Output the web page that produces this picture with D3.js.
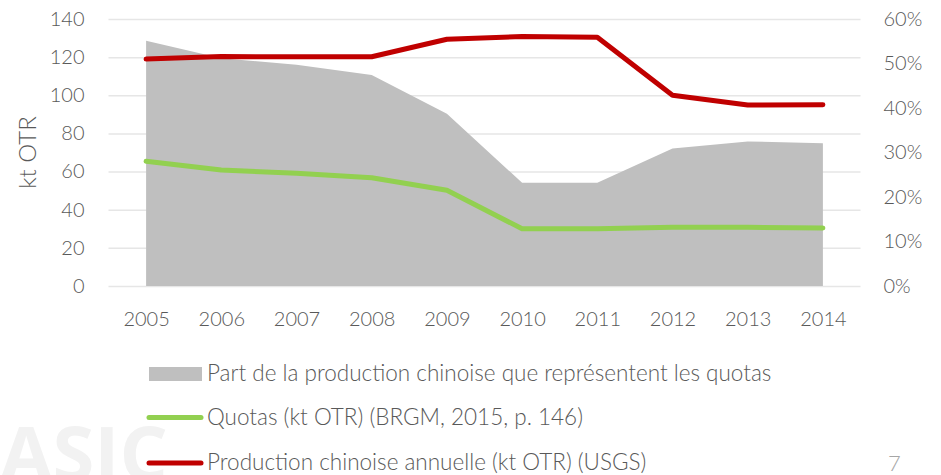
<!DOCTYPE html>
<html>
<head>
<meta charset="utf-8">
<script src="https://cdn.jsdelivr.net/npm/d3@7"></script>
<style>
  body { margin: 0; background: #fff; }
  svg { display: block; font-family: Lato, "Open Sans", sans-serif; font-weight: 300; }
  .axis text { fill: #595959; font-size: 20px; font-family: Lato, sans-serif; font-weight: 300; }
  .axis .domain { display: none; }
  .grid line { stroke: #e6e6e6; stroke-width: 1.5; }
  .grid .domain { display: none; }
  .legend text { fill: #595959; font-size: 22.5px; }
</style>
</head>
<body>
<svg id="chart" width="941" height="475"></svg>
<script>
// Chinese production vs quotas, 2005-2014
const years = ["2005", "2006", "2007", "2008", "2009", "2010", "2011", "2012", "2013", "2014"];
const quotaShare = [0.551, 0.512, 0.497, 0.474, 0.387, 0.232, 0.232, 0.309, 0.325, 0.321];
const quotas = [65.4, 60.8, 59.1, 56.8, 50.2, 30.0, 30.0, 30.8, 30.8, 30.4];
const production = [119, 120.3, 120.2, 120.2, 129.4, 130.8, 130.4, 100, 94.9, 95];
const leftTicks = [0, 20, 40, 60, 80, 100, 120, 140];
const rightTicks = [0, 0.1, 0.2, 0.3, 0.4, 0.5, 0.6];
const legendLabels = [
  "Part de la production chinoise que représentent les quotas",
  "Quotas (kt OTR) (BRGM, 2015, p. 146)",
  "Production chinoise annuelle (kt OTR) (USGS)"
];

const svg = d3.select("#chart");
const plot = { left: 108.5, right: 860.5, top: 19, bottom: 286 };

// watermark behind everything
svg.append("text")
  .attr("x", 0)
  .attr("y", 481)
  .attr("font-size", 76)
  .attr("font-weight", 700)
  .attr("font-family", "Open Sans, sans-serif")
  .attr("fill", "#f2f2f2")
  .text("ASIC");

const x = d3.scalePoint().domain(years).range([plot.left, plot.right]).padding(0.5);
const yLeft = d3.scaleLinear().domain([0, 140]).range([plot.bottom, plot.top]);
const yRight = d3.scaleLinear().domain([0, 0.6]).range([plot.bottom, plot.top]);

// gridlines
svg.append("g")
  .attr("class", "grid")
  .attr("transform", `translate(${plot.left},0)`)
  .call(d3.axisLeft(yLeft).tickValues(leftTicks).tickSize(-(plot.right - plot.left)).tickFormat(""));

// share area (right axis)
const area = d3.area()
  .x((d, i) => x(years[i]))
  .y0(yRight(0))
  .y1((d) => yRight(d));

svg.append("path")
  .datum(quotaShare)
  .attr("fill", "#bfbfbf")
  .attr("d", area);

const line = d3.line().x((d, i) => x(years[i])).y((d) => yLeft(d));

svg.append("path")
  .datum(quotas)
  .attr("fill", "none")
  .attr("stroke", "#92d050")
  .attr("stroke-width", 5)
  .attr("stroke-linecap", "round")
  .attr("stroke-linejoin", "round")
  .attr("d", line);

svg.append("path")
  .datum(production)
  .attr("fill", "none")
  .attr("stroke", "#c00000")
  .attr("stroke-width", 5)
  .attr("stroke-linecap", "round")
  .attr("stroke-linejoin", "round")
  .attr("d", line);

// axes
svg.append("g")
  .attr("class", "axis")
  .attr("transform", `translate(${plot.left},0)`)
  .call(d3.axisLeft(yLeft).tickValues(leftTicks).tickSize(0).tickPadding(24));

svg.append("g")
  .attr("class", "axis")
  .attr("transform", `translate(${plot.right},0)`)
  .call(d3.axisRight(yRight).tickValues(rightTicks).tickSize(0).tickPadding(23).tickFormat(d3.format(".0%")));

svg.append("g")
  .attr("class", "axis")
  .attr("transform", `translate(0,${plot.bottom})`)
  .call(d3.axisBottom(x).tickSize(0).tickPadding(26));

svg.selectAll(".axis .tick line").remove();

svg.append("text")
  .attr("transform", "rotate(-90)")
  .attr("x", -(plot.top + plot.bottom) / 2)
  .attr("y", 36)
  .attr("text-anchor", "middle")
  .attr("fill", "#595959")
  .attr("font-size", 24)
  .text("kt OTR");

// legend
const legend = svg.append("g").attr("class", "legend");
const rowsY = [374, 417.5, 463];

legend.append("rect")
  .attr("x", 149).attr("y", rowsY[0] - 7)
  .attr("width", 53).attr("height", 14)
  .attr("fill", "#bfbfbf");

legend.append("line")
  .attr("x1", 149).attr("x2", 201)
  .attr("y1", rowsY[1]).attr("y2", rowsY[1])
  .attr("stroke", "#92d050").attr("stroke-width", 5).attr("stroke-linecap", "round");

legend.append("line")
  .attr("x1", 149).attr("x2", 201)
  .attr("y1", rowsY[2]).attr("y2", rowsY[2])
  .attr("stroke", "#c00000").attr("stroke-width", 5).attr("stroke-linecap", "round");

legend.selectAll("text.lbl")
  .data(legendLabels)
  .enter()
  .append("text")
  .attr("class", "lbl")
  .attr("x", 207)
  .attr("y", (d, i) => rowsY[i])
  .attr("dy", "0.32em")
  .text((d) => d);

// page number
svg.append("text")
  .attr("x", 888)
  .attr("y", 471)
  .attr("font-size", 22)
  .attr("fill", "#a6a6a6")
  .text("7");
</script>
</body>
</html>
